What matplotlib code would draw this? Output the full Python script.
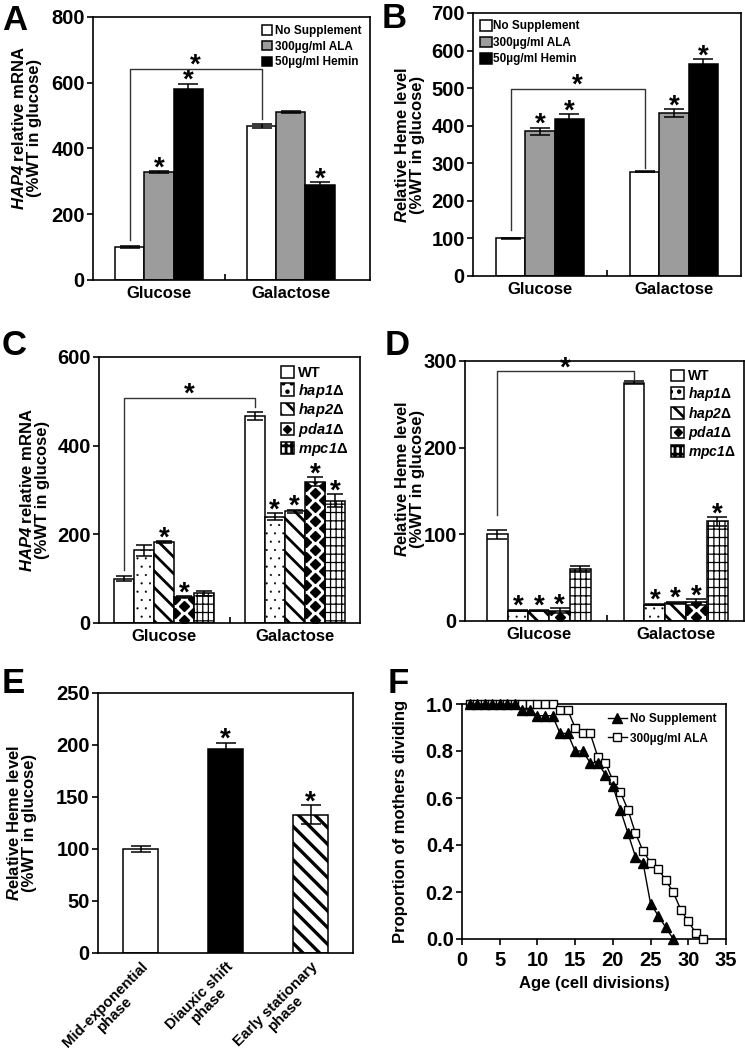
import numpy as np
import matplotlib
matplotlib.use("Agg")
import matplotlib.pyplot as plt
from matplotlib.patches import Rectangle
from matplotlib.lines import Line2D
from matplotlib.ticker import FormatStrFormatter

plt.rcParams["font.family"] = ["Liberation Sans", "DejaVu Sans"]
plt.rcParams["font.weight"] = "bold"
plt.rcParams["axes.labelweight"] = "bold"
plt.rcParams["mathtext.fontset"] = "custom"
plt.rcParams["mathtext.rm"] = "Liberation Sans:bold"
plt.rcParams["mathtext.it"] = "Liberation Sans:italic:bold"
plt.rcParams["mathtext.sf"] = "Liberation Sans:italic:bold"
plt.rcParams["mathtext.bf"] = "Liberation Sans:bold"
plt.rcParams["axes.linewidth"] = 1.2
plt.rcParams["hatch.linewidth"] = 2.0

conditions = ["Glucose", "Galactose"]

# A / B: supplements
supplements = ["No Supplement", "300µg/ml ALA", "50µg/ml Hemin"]
a_mrna = [[100, 468], [328, 510], [582, 288]]
a_err = [[2, 7], [3, 3], [15, 10]]
a_sig = [[0, 0], [1, 0], [1, 1]]
a_bracket = [121, 643, 491]  # left leg end, top, right leg end

b_heme = [[100, 278], [385, 433], [419, 565]]
b_err = [[2, 2], [10, 11], [11, 12]]
b_sig = [[0, 0], [1, 1], [1, 1]]
b_bracket = [122, 498, 288]

# C / D: deletion strains
strains = ["WT", "hap1", "hap2", "pda1", "mpc1"]
c_mrna = [[100, 466], [164, 240], [182, 252], [58, 319], [67, 276]]
c_err = [[5, 9], [12, 8], [2, 4], [2, 10], [5, 15]]
c_sig = [[0, 0], [0, 1], [1, 1], [1, 1], [0, 1]]
c_bracket = [119, 508, 487]

d_heme = [[100, 275], [12, 19], [12, 21], [12, 22], [60, 115]]
d_err = [[5, 2], [1, 1], [1, 1], [3, 3], [4, 5]]
d_sig = [[0, 0], [1, 1], [1, 1], [1, 1], [0, 1]]
d_bracket = [122, 288, 279]

# E: growth phases
phases = ["Mid-exponential\nphase", "Diauxic shift\nphase", "Early stationary\nphase"]
e_heme = [100, 196, 133]
e_err = [3, 6, 9]
e_sig = [0, 1, 1]

# F: replicative lifespan
ages_ns = list(range(1, 29))
prop_ns = [1.0, 1.0, 1.0, 1.0, 1.0, 1.0, 1.0, 0.975, 0.975, 0.95, 0.95, 0.95,
           0.875, 0.875, 0.8, 0.8, 0.75, 0.75, 0.7, 0.65, 0.55, 0.45, 0.35,
           0.325, 0.15, 0.1, 0.05, 0.0]
ages_ala = list(range(1, 33))
prop_ala = [1.0, 1.0, 1.0, 1.0, 1.0, 1.0, 1.0, 1.0, 1.0, 1.0, 1.0, 1.0,
            0.975, 0.975, 0.9, 0.875, 0.875, 0.775, 0.75, 0.675, 0.625, 0.55,
            0.45, 0.375, 0.325, 0.3, 0.25, 0.2, 0.125, 0.075, 0.025, 0.0]

supp_styles = [dict(color="white"), dict(color="#9c9c9c"), dict(color="black")]
strain_styles = [dict(color="white", hatch=None, hlw=1.0),
                 dict(color="white", hatch="..", hlw=0.3),
                 dict(color="white", hatch="\\\\", hlw=2.0),
                 dict(color="white", hatch=None, hlw=1.0, diamonds=True),
                 dict(color="white", hatch="|||--", hlw=0.9)]

ylab_mrna = "$\\mathsf{HAP4}$ relative mRNA\n(%WT in glucose)"
ylab_heme = "$\\mathsf{R}$elative Heme level\n(%WT in glucose)"

fig = plt.figure(figsize=(7.45, 10.6), dpi=100)


def px_axes(left, top, right, bottom):
    W, H = 745.0, 1060.0
    return fig.add_axes([left / W, 1 - bottom / H, (right - left) / W, (bottom - top) / H])


def star(ax, x, y, size=20):
    ax.annotate("*", (x, y), xytext=(0, -3), textcoords="offset points",
                ha="center", va="baseline", fontsize=size, fontweight="bold")


def diamond_fill(ax, rect, px=18.0, py=14.0, ms=5.0):
    inv = ax.transData.inverted()
    x0, y0 = ax.transData.transform((rect.get_x(), rect.get_y()))
    x1, y1 = ax.transData.transform((rect.get_x() + rect.get_width(),
                                     rect.get_y() + rect.get_height()))
    cx = (x0 + x1) / 2
    pts = []
    for j in range(int((y1 - y0) / (py / 2)) + 2):
        yy = y0 + py / 4 + j * py / 2
        off = (j % 2) * px / 2
        for k in range(-3, 4):
            pts.append((cx + off + k * px, yy))
    pts = inv.transform(np.array(pts))
    ln, = ax.plot(pts[:, 0], pts[:, 1], "D", color="black", ms=ms, zorder=3)
    ln.set_clip_path(rect)


def grouped(ax, means, errs, sigs, styles, width, capsize, labels):
    n = len(means)
    x = np.arange(len(conditions))
    handles = []
    for i in range(n):
        pos = x + (i - (n - 1) / 2) * width
        st = styles[i]
        bars = ax.bar(pos, means[i], width, yerr=errs[i], color=st["color"],
                      edgecolor="black", linewidth=1.1, hatch=st.get("hatch"),
                      error_kw=dict(ecolor="black", elinewidth=1.1, capsize=capsize,
                                    capthick=1.1, zorder=4),
                      zorder=2, label=labels[i])
        for r in bars:
            if hasattr(r, "set_hatch_linewidth"):
                r.set_hatch_linewidth(st.get("hlw", 1.0))
            if st.get("diamonds"):
                diamond_fill(ax, r)
        for p, m, e, s in zip(pos, means[i], errs[i], sigs[i]):
            if s:
                star(ax, p, m + e)
        handles.append(bars)
    return handles, x, width, n


def bracket(ax, x, width, n, br, lw=1.0):
    xl = x[0] - (n - 1) / 2 * width
    xr = x[1] - (n - 1) / 2 * width
    ax.plot([xl, xl, xr, xr], [br[0], br[1], br[1], br[2]], color="#333333",
            lw=lw, zorder=3)
    star(ax, (xl + xr) / 2, br[1])


def style_bars(ax, ymax, ystep, xlim):
    ax.set_ylim(0, ymax)
    ax.set_yticks(np.arange(0, ymax + 1, ystep))
    ax.set_xlim(*xlim)
    ax.set_xticks(np.arange(len(conditions)))
    ax.set_xticklabels(conditions)
    ax.set_xticks([0.5], minor=True)
    ax.tick_params(axis="y", direction="out", length=4, width=1.2, pad=2, labelsize=14.5)
    ax.tick_params(axis="x", which="major", length=0, pad=4, labelsize=12)
    ax.tick_params(axis="x", which="minor", direction="in", length=4, width=1.2)


# ---- A ----
axA = px_axes(93, 17, 370, 280)
style_bars(axA, 800, 200, (-0.5, 1.6))
hA, x, w, n = grouped(axA, a_mrna, a_err, a_sig, supp_styles, 0.222, 7, supplements)
bracket(axA, x, w, n, a_bracket)
axA.set_ylabel(ylab_mrna, fontsize=12, linespacing=1.0)
axA.yaxis.set_label_coords(-0.184, 0.58)
axA.legend(handles=hA, loc="upper right", bbox_to_anchor=(1.0, 1.0), frameon=False,
           fontsize=8.5, handlelength=0.85, handleheight=0.85, handletextpad=0.3,
           labelspacing=0.3, borderaxespad=0.3)

# ---- B ----
axB = px_axes(473, 13, 741, 276)
style_bars(axB, 700, 100, (-0.5, 1.5))
hB, x, w, n = grouped(axB, b_heme, b_err, b_sig, supp_styles, 0.22, 7, supplements)
bracket(axB, x, w, n, b_bracket)
axB.set_ylabel(ylab_heme, fontsize=12, linespacing=1.0)
axB.yaxis.set_label_coords(-0.179, 0.5)
axB.legend(handles=hB, loc="upper left", bbox_to_anchor=(0.0, 1.0), frameon=False,
           fontsize=8.5, handlelength=1.0, handleheight=1.0, handletextpad=0.1,
           labelspacing=0.35, borderaxespad=0.2)

# ---- C ----
strain_labels = ["WT"] + ["$\\mathsf{%s}$Δ" % s for s in strains[1:]]


def strain_legend(ax, handles, fs, bbox):
    hh = []
    for h, st in zip(handles, strain_styles):
        if st.get("diamonds"):
            hh.append((Rectangle((0, 0), 1, 1, fc="white", ec="black", lw=1.1),
                       Line2D([], [], marker="D", ls="", color="black", ms=4.5)))
        else:
            hh.append(h)
    ax.legend(hh, strain_labels, loc="upper right", bbox_to_anchor=bbox, frameon=False,
              fontsize=fs, handlelength=0.9, handleheight=0.9, handletextpad=0.3,
              labelspacing=0.12, borderaxespad=0.2)


axC = px_axes(99, 357, 360, 623)
style_bars(axC, 600, 200, (-0.5, 1.5))
hC, x, w, n = grouped(axC, c_mrna, c_err, c_sig, strain_styles, 0.154, 6,
                      strain_labels)
bracket(axC, x, w, n, c_bracket)
axC.set_ylabel(ylab_mrna, fontsize=12, linespacing=1.0)
axC.yaxis.set_label_coords(-0.188, 0.5)
strain_legend(axC, hC, 10.5, (0.99, 1.0))

# ---- D ----
axD = px_axes(465, 361, 744, 621)
style_bars(axD, 300, 100, (-0.54, 1.5))
hD, x, w, n = grouped(axD, d_heme, d_err, d_sig, strain_styles, 0.152, 7,
                      strain_labels)
bracket(axD, x, w, n, d_bracket)
axD.set_ylabel(ylab_heme, fontsize=12, linespacing=1.0)
axD.yaxis.set_label_coords(-0.143, 0.546)
strain_legend(axD, hD, 10, (1.0, 1.0))

# ---- E ----
axE = px_axes(98, 693, 353, 953)
xe = np.arange(len(phases))
e_fc = ["white", "black", "white"]
e_hatch = [None, None, "\\\\"]
barsE = axE.bar(xe, e_heme, 0.41, yerr=e_err, color=e_fc, edgecolor="black",
                linewidth=1.1, hatch=e_hatch,
                error_kw=dict(ecolor="black", elinewidth=1.1, capsize=7, capthick=1.1),
                zorder=2)
for r in barsE:
    if hasattr(r, "set_hatch_linewidth"):
        r.set_hatch_linewidth(2.4)
for xi, m, e, s in zip(xe, e_heme, e_err, e_sig):
    if s:
        star(axE, xi, m + e)
axE.set_xlim(-0.5, 2.5)
axE.set_ylim(0, 250)
axE.set_yticks(np.arange(0, 251, 50))
axE.set_xticks(xe)
axE.set_xticklabels(phases, rotation=45, ha="right", va="top", rotation_mode="anchor",
                    multialignment="center", linespacing=0.95)
axE.tick_params(axis="y", direction="out", length=4, width=1.2, pad=2, labelsize=14.5)
axE.tick_params(axis="x", length=0, pad=5, labelsize=10.8)
axE.set_ylabel(ylab_heme, fontsize=12, linespacing=1.0)
axE.yaxis.set_label_coords(-0.24, 0.5)

# ---- F ----
axF = px_axes(462, 704, 726, 939)
axF.plot(ages_ala, prop_ala, "-s", color="black", mfc="white", mec="black", ms=5.5,
         lw=1.0, clip_on=False, zorder=3, label="300µg/ml ALA")
axF.plot(ages_ns, prop_ns, "-^", color="black", ms=7, lw=1.0, clip_on=False,
         zorder=4, label="No Supplement")
axF.set_xlim(0, 35)
axF.set_ylim(0, 1.0)
axF.set_xticks(np.arange(0, 36, 5))
axF.set_yticks(np.arange(0, 1.01, 0.2))
axF.yaxis.set_major_formatter(FormatStrFormatter("%.1f"))
axF.tick_params(direction="out", length=4, width=1.2, pad=2, labelsize=14.5)
axF.tick_params(axis="x", pad=5)
axF.set_xlabel("Age (cell divisions)", fontsize=12)
axF.set_ylabel("Proportion of mothers dividing", fontsize=12)
axF.yaxis.set_label_coords(-0.205, 0.5)
hF, lF = axF.get_legend_handles_labels()
axF.legend(hF[::-1], lF[::-1], loc="upper right", frameon=False, fontsize=8.5,
           handlelength=1.6, numpoints=1, handletextpad=0.3, labelspacing=0.6,
           borderaxespad=0.4)

# panel letters
for lab, (lx, ly) in zip("ABCDEF", [(2, 30), (382, 28), (2, 355), (385, 355),
                                    (2, 693), (388, 693)]):
    fig.text(lx / 745, 1 - ly / 1060, lab, fontsize=25, fontweight="bold",
             ha="left", va="baseline")

fig.savefig("out.png", dpi=100)
